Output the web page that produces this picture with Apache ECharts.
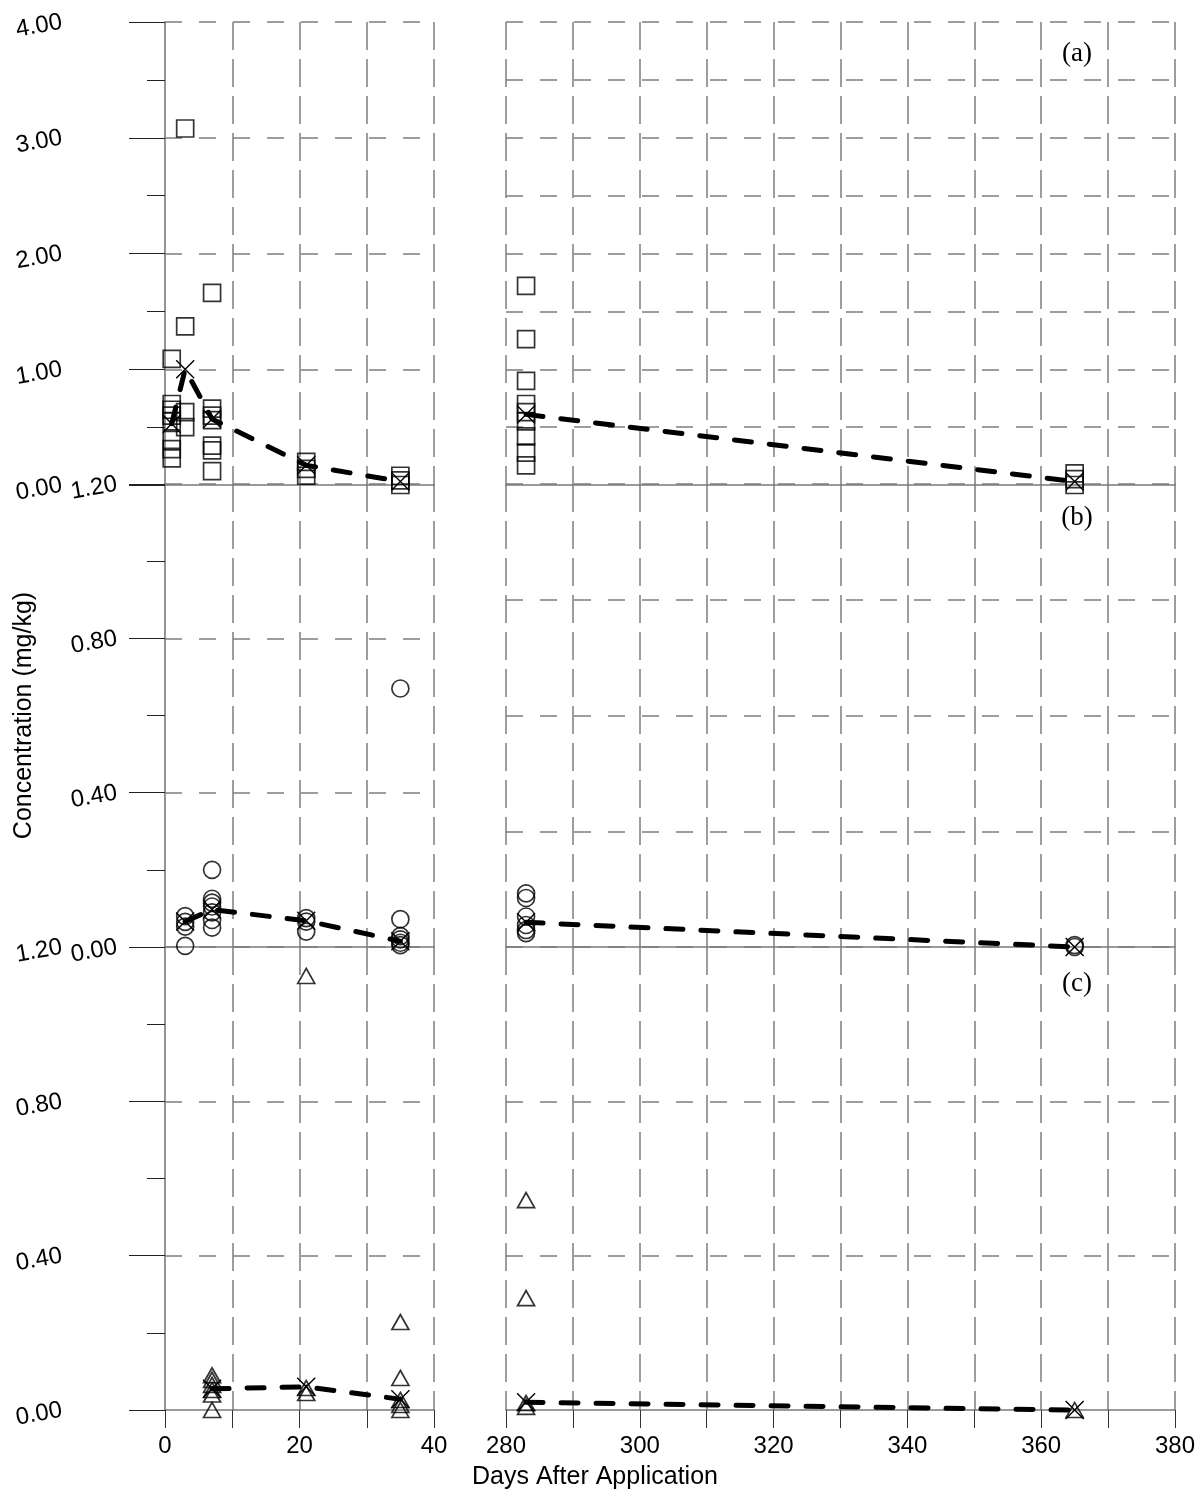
<!DOCTYPE html>
<html>
<head>
<meta charset="utf-8">
<script src="https://cdn.jsdelivr.net/npm/echarts@6/dist/echarts.min.js"></script>
<style>
  html, body { margin: 0; padding: 0; background: #fff; }
  #chart { width: 1203px; height: 1491px; }
</style>
</head>
<body>
<div id="chart"></div>
<script>
// ---------- data (day, concentration mg/kg) ----------
const squaresLeft = [
  [1, 1.09], [1, 0.70], [1, 0.65], [1, 0.60], [1, 0.55], [1, 0.39], [1, 0.31], [1, 0.23],
  [3, 3.08], [3, 1.37], [3, 0.63], [3, 0.50],
  [7, 1.66], [7, 0.66], [7, 0.60], [7, 0.56], [7, 0.34], [7, 0.30], [7, 0.12],
  [21, 0.20], [21, 0.14], [21, 0.08],
  [35, 0.08], [35, 0.04], [35, 0.00]
];
const squaresRight = [
  [283, 1.72], [283, 1.26], [283, 0.90], [283, 0.70], [283, 0.63], [283, 0.55], [283, 0.42], [283, 0.28], [283, 0.17],
  [365, 0.10], [365, 0.05], [365, 0.00]
];
const meanALeft = [[1, 0.53], [3, 1.00], [7, 0.57], [21, 0.17], [35, 0.03]];
const meanARight = [[283, 0.61], [365, 0.03]];

const circlesLeft = [
  [3, 0.08], [3, 0.065], [3, 0.053], [3, 0.003],
  [7, 0.20], [7, 0.125], [7, 0.115], [7, 0.105], [7, 0.09], [7, 0.07], [7, 0.05],
  [21, 0.075], [21, 0.066], [21, 0.04],
  [35, 0.67], [35, 0.072], [35, 0.028], [35, 0.02], [35, 0.011], [35, 0.005]
];
const circlesRight = [
  [283, 0.139], [283, 0.127], [283, 0.079], [283, 0.057], [283, 0.044], [283, 0.036],
  [365, 0.005], [365, 0.0]
];
const meanBLeft = [[3, 0.066], [7, 0.097], [21, 0.068], [35, 0.015]];
const meanBRight = [[283, 0.064], [365, 0.0]];

const trianglesLeft = [
  [7, 0.09], [7, 0.078], [7, 0.065], [7, 0.052], [7, 0.04], [7, 0.0],
  [21, 1.125], [21, 0.057], [21, 0.044],
  [35, 0.228], [35, 0.083], [35, 0.026], [35, 0.013], [35, 0.0]
];
const trianglesRight = [[283, 0.544], [283, 0.29], [283, 0.018], [283, 0.008], [365, 0.0]];
const meanCLeft = [[7, 0.055], [21, 0.06], [35, 0.028]];
const meanCRight = [[283, 0.02], [365, 0.0]];

const panelLabels = ['(a)', '(b)', '(c)'];
const yMax = [4, 1.2, 1.2];
const yIntervalLeft = [1, 0.4, 0.4];
const yIntervalRight = [0.5, 0.3, 0.4];
const xRangeLeft = [0, 40];
const xRangeRight = [280, 380];
const yTitle = 'Concentration (mg/kg)';
const xTitle = 'Days After Application';

// ---------- styling ----------
const SANS = '"Liberation Sans", Arial, sans-serif';
const SERIF = '"Liberation Serif", "Times New Roman", serif';
const gridColor = '#858585';
const vDash = { color: gridColor, width: 1.6, type: [28, 9] };
const hDash = { color: gridColor, width: 1.6, type: [17, 17] };
const panelTop = [22, 484, 947];
const panelH = 463;
const leftX = 165, leftW = 269, rightX = 506, rightW = 669;

const grids = [], xAxes = [], yAxes = [];
for (let p = 0; p < 3; p++) {
  const bottom = p === 2;
  grids.push({ left: leftX, top: panelTop[p], width: leftW, height: panelH, containLabel: false });
  grids.push({ left: rightX, top: panelTop[p], width: rightW, height: panelH, containLabel: false });
  [[xRangeLeft, true], [xRangeRight, false]].forEach(([rng, isLeft], k) => {
    const gi = p * 2 + k;
    xAxes.push({
      type: 'value', gridIndex: gi, min: rng[0], max: rng[1], interval: 10,
      axisLine: { show: true, onZero: false, lineStyle: { color: '#7a7a7a', width: 1.6 } },
      axisTick: { show: bottom, length: 18, lineStyle: { color: '#333', width: 1 } },
      axisLabel: {
        show: bottom, fontSize: 24, color: '#000', fontFamily: SANS, margin: 24,
        formatter: v => (v % 20 === 0 ? String(v) : '')
      },
      splitLine: { show: true, showMinLine: !isLeft, lineStyle: vDash }
    });
    if (isLeft) {
      yAxes.push({
        type: 'value', gridIndex: gi, min: 0, max: yMax[p], interval: yIntervalLeft[p],
        axisLine: { show: true, lineStyle: { color: '#7a7a7a', width: 1.6 } },
        axisTick: { show: true, length: 36, lineStyle: { color: '#222', width: 1 } },
        minorTick: { show: true, splitNumber: 2, length: 18, lineStyle: { color: '#222', width: 1 } },
        axisLabel: {
          rotate: 10, fontSize: 24, color: '#000', fontFamily: SANS,
          margin: p === 1 ? 48 : 103,
          formatter: v => v.toFixed(2)
        },
        splitLine: { show: true, showMinLine: false, lineStyle: hDash },
        name: p === 1 ? yTitle : '',
        nameLocation: 'middle', nameRotate: 90, nameGap: 128,
        nameTextStyle: { fontSize: 25, color: '#000', fontFamily: SANS }
      });
    } else {
      yAxes.push({
        type: 'value', gridIndex: gi, min: 0, max: yMax[p], interval: yIntervalRight[p],
        axisLine: { show: false }, axisTick: { show: false }, axisLabel: { show: false },
        splitLine: { show: true, showMinLine: false, lineStyle: hDash }
      });
    }
  });
}

const hollow = { color: 'rgba(0,0,0,0)', borderColor: '#000', borderWidth: 1.7 };
function scatter(data, gi, symbol, size) {
  return {
    type: 'scatter', xAxisIndex: gi, yAxisIndex: gi, data, symbol, symbolSize: size,
    itemStyle: hollow, clip: false, z: 3, silent: true
  };
}
const xMark = 'path://M0 0 L10 10 M10 0 L0 10';
function meanLine(data, gi) {
  return {
    type: 'line', xAxisIndex: gi, yAxisIndex: gi, data,
    symbol: xMark, symbolSize: 18, showSymbol: true, clip: false, z: 4, silent: true,
    itemStyle: { color: 'rgba(0,0,0,0)', borderColor: '#000', borderWidth: 1.4 },
    lineStyle: { color: '#000', width: 5, type: [17, 18], cap: 'round' }
  };
}

const series = [
  scatter(squaresLeft, 0, 'rect', 17),
  scatter(squaresRight, 1, 'rect', 17),
  scatter(circlesLeft, 2, 'circle', 17),
  scatter(circlesRight, 3, 'circle', 17),
  scatter(trianglesLeft, 4, 'triangle', [17, 15]),
  scatter(trianglesRight, 5, 'triangle', [17, 15]),
  meanLine(meanALeft, 0), meanLine(meanARight, 1),
  meanLine(meanBLeft, 2), meanLine(meanBRight, 3),
  meanLine(meanCLeft, 4), meanLine(meanCRight, 5)
];

const labelY = [54, 518, 984];
const graphic = panelLabels.map((t, i) => ({
  type: 'text', x: 1077, y: labelY[i], silent: true,
  style: { text: t, font: '27px ' + SERIF, fill: '#000', align: 'center', verticalAlign: 'middle' }
}));
graphic.push({
  type: 'text', x: 595, y: 1477, silent: true,
  style: { text: xTitle, font: '25px ' + SANS, fill: '#000', align: 'center', verticalAlign: 'middle' }
});

const chart = echarts.init(document.getElementById('chart'), null, { renderer: 'canvas' });
chart.setOption({
  animation: false,
  backgroundColor: '#fff',
  grid: grids,
  xAxis: xAxes,
  yAxis: yAxes,
  series,
  graphic
});
</script>
</body>
</html>
